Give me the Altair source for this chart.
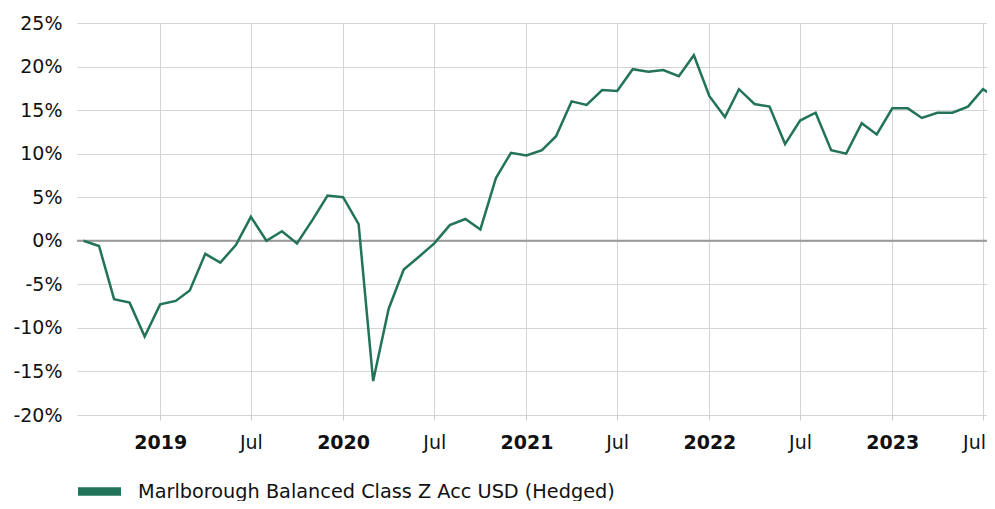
import altair as alt
import pandas as pd

GREEN = "#23735b"
SERIES = "Marlborough Balanced Class Z Acc USD (Hedged)"

# monthly points, Aug 2018 .. Aug 2023
months = list(pd.date_range("2018-08-01", "2023-08-01", freq="MS").strftime("%Y-%m-%d"))
values = [
    0.0, -0.6, -6.7, -7.1, -11.0,                                        # 2018 Aug-Dec
    -7.3, -6.9, -5.7, -1.5, -2.5, -0.5, 2.75, 0.0, 1.1, -0.3, 2.4, 5.2,   # 2019
    5.0, 1.9, -16.1, -7.8, -3.3, -1.8, -0.3, 1.8, 2.5, 1.3, 7.2, 10.1,    # 2020
    9.8, 10.4, 12.0, 16.0, 15.6, 17.3, 17.2, 19.7, 19.4, 19.6, 18.9, 21.3,  # 2021
    16.6, 14.2, 17.4, 15.7, 15.4, 11.1, 13.8, 14.7, 10.4, 10.0, 13.5, 12.2,  # 2022
    15.2, 15.2, 14.1, 14.7, 14.7, 15.4, 17.4, 16.3,                        # 2023 Jan-Aug
]
y_ticks = [-20, -15, -10, -5, 0, 5, 10, 15, 20, 25]
x_tick_years = [2019, 2020, 2021, 2022, 2023]
x_tick_months = [1, 7]
zero_line = [0]

df = pd.DataFrame({"date": months, "value": values, "series": SERIES})
zero_df = pd.DataFrame({"y": zero_line})

x_ticks = [alt.DateTime(year=y, month=m, date=1, utc=True)
           for y in x_tick_years for m in x_tick_months]

x_scale = alt.Scale(
    type="utc",
    domain=[alt.DateTime(year=2018, month=7, date=19, utc=True),
            alt.DateTime(year=2023, month=7, date=9, utc=True)],
)
y_scale = alt.Scale(domain=[-20, 25], nice=False, zero=False)

x_axis = alt.Axis(
    title=None,
    values=x_ticks,
    labelExpr="utcmonth(datum.value) == 0 ? utcFormat(datum.value, '%Y') : utcFormat(datum.value, '%b')",
    labelFontWeight=alt.ExprRef("utcmonth(datum.value) == 0 ? 'bold' : 'normal'"),
    labelOffset=alt.ExprRef("(utcyear(datum.value) == 2023 && utcmonth(datum.value) == 6) ? -9 : 0"),
    labelFont="DejaVu Sans",
    labelFontSize=19,
    labelColor="#111111",
    labelPadding=13,
    tickSize=5,
    tickColor="#cccccc",
    domain=False,
    grid=True,
    gridColor="#d4d4d4",
    gridWidth=1,
    labelFlush=False,
    labelOverlap=False,
)
y_axis = alt.Axis(
    title=None,
    values=y_ticks,
    labelExpr="datum.value + '%'",
    labelFont="DejaVu Sans",
    labelFontSize=19,
    labelColor="#111111",
    labelPadding=15,
    ticks=False,
    domain=False,
    grid=True,
    gridColor="#d4d4d4",
    gridWidth=1,
)

zero = alt.Chart(zero_df).mark_rule(color="#9a9a9a", strokeWidth=2).encode(
    y=alt.Y("y:Q", scale=y_scale, axis=y_axis)
)

line = alt.Chart(df).mark_line(strokeWidth=2.5, clip=False).encode(
    x=alt.X("date:T", scale=x_scale, axis=x_axis),
    y=alt.Y("value:Q", scale=y_scale, axis=y_axis),
    color=alt.Color(
        "series:N",
        scale=alt.Scale(range=[GREEN]),
        legend=alt.Legend(
            title=None,
            orient="none",
            legendX=1,
            legendY=447,
            padding=0,
            symbolType="M-1,-0.2H1V0.2H-1Z",
            symbolSize=1849,
            symbolFillColor=GREEN,
            symbolStrokeColor=GREEN,
            symbolStrokeWidth=0,
            symbolOpacity=1,
            labelFont="DejaVu Sans",
            labelFontSize=19.3,
            labelColor="#111111",
            labelOffset=17,
            labelLimit=0,
        ),
    ),
)

chart = alt.layer(zero, line).properties(
    width=910,
    height=392,
    autosize=alt.AutoSizeParams(type="none"),
    padding={"left": 69, "top": 15, "right": 0, "bottom": 86},
).configure_view(stroke=None)

chart.save("out.html", embed_options={"renderer": "svg", "actions": False})
